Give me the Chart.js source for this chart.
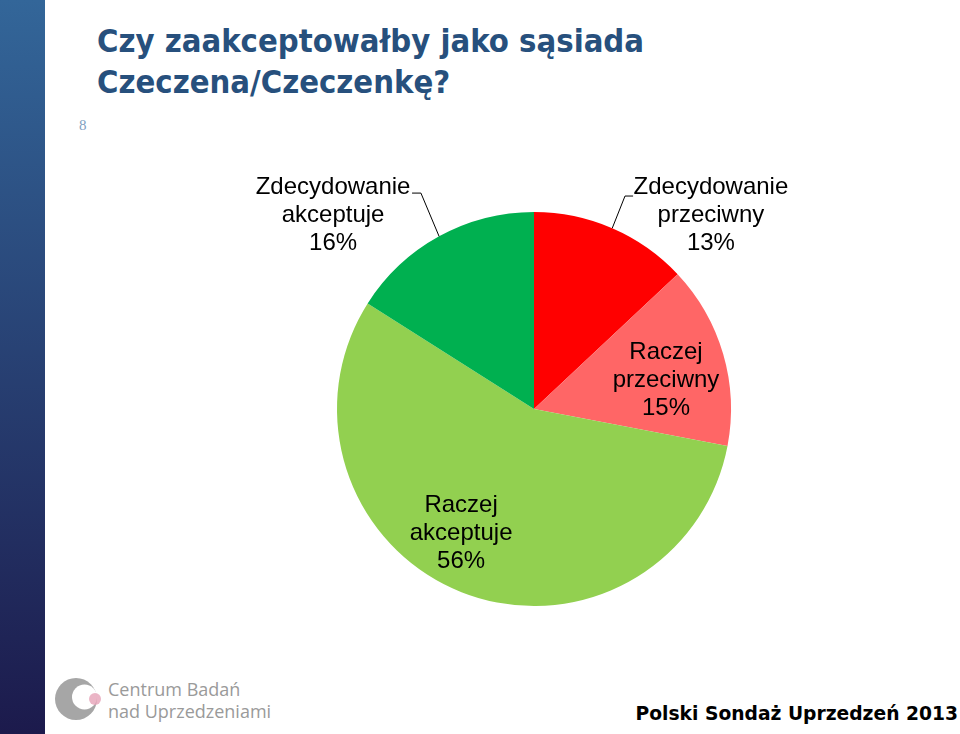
<!DOCTYPE html>
<html lang="pl">
<head>
    <meta charset="UTF-8">
    <title>Czy zaakceptowałby jako sąsiada Czeczena/Czeczenkę?</title>
    <style>
        body {
            margin: 0;
            width: 960px;
            height: 734px;
            background: white;
            position: relative;
            overflow: hidden;
            font-family: "Liberation Sans", Arial, sans-serif;
        }

        .side-bar {
            position: absolute;
            left: 0;
            top: 0;
            width: 45px;
            height: 734px;
            background: linear-gradient(to bottom, #336699, #1c1a4c);
        }

        h1 {
            position: absolute;
            left: 97px;
            top: 21px;
            margin: 0;
            font-family: "DejaVu Sans Condensed", "DejaVu Sans", sans-serif;
            font-weight: bold;
            font-size: 32.5px;
            line-height: 41px;
            color: #27507d;
        }

        .page-num {
            position: absolute;
            left: 79px;
            top: 117px;
            font-family: "Liberation Serif", "DejaVu Serif", serif;
            font-size: 15px;
            color: #7f9fbf;
        }

        .logo {
            position: absolute;
            left: 52px;
            top: 674px;
        }

        .logo-text {
            position: absolute;
            left: 108px;
            top: 678px;
            font-family: "Open Sans", sans-serif;
            font-size: 18px;
            line-height: 22px;
            color: #9a9a9a;
        }

        .footer {
            position: absolute;
            right: 2px;
            top: 703px;
            font-family: "DejaVu Sans", sans-serif;
            font-weight: bold;
            font-size: 18.7px;
            color: #000;
        }

        #chart-wrap {
            position: absolute;
            left: 0;
            top: 0;
            width: 960px;
            height: 734px;
        }
    </style>
</head>
<body>

<div class="side-bar"></div>
<h1>Czy zaakceptowałby jako sąsiada<br>Czeczena/Czeczenkę?</h1>
<div class="page-num">8</div>

<!-- logo -->
<svg class="logo" width="56" height="50" viewBox="0 0 56 50">
    <defs>
        <mask id="cut">
            <rect width="56" height="50" fill="white"/>
            <circle cx="32.5" cy="23" r="12.5" fill="black"/>
        </mask>
    </defs>
    <circle cx="24" cy="25" r="21" fill="#a6a6a6" mask="url(#cut)"/>
    <circle cx="43" cy="25" r="6" fill="#e6a3b8" opacity="0.8"/>
</svg>
<div class="logo-text">Centrum Badań<br>nad Uprzedzeniami</div>

<div class="footer">Polski Sondaż Uprzedzeń 2013</div>

<div id="chart-wrap"><canvas id="pieChart"></canvas></div>

<script src="https://cdn.jsdelivr.net/npm/chart.js"></script>
<script>
    // data, clockwise from 12 o'clock
    const categories = ['Zdecydowanie przeciwny', 'Raczej przeciwny', 'Raczej akceptuje', 'Zdecydowanie akceptuje'];
    const labelLines = [
        ['Zdecydowanie', 'przeciwny'],
        ['Raczej', 'przeciwny'],
        ['Raczej', 'akceptuje'],
        ['Zdecydowanie', 'akceptuje']
    ];
    const percentages = [13, 15, 56, 16];
    const sliceColors = ['#ff0000', '#ff6666', '#92d050', '#00b050'];

    // label placement, in units of the pie radius from its centre
    const labelPos = [[0.898, -0.985], [0.67, -0.147], [-0.37, 0.63], [-1.02, -0.985]];
    const leaders = [
        [[0.462, -1.081], [0.503, -1.081]],
        null,
        null,
        [[-0.574, -1.096], [-0.619, -1.096]]
    ];

    const sliceLabels = {
        id: 'sliceLabels',
        afterDatasetsDraw(chart) {
            const ctx = chart.ctx;
            const meta = chart.getDatasetMeta(0);
            ctx.save();
            meta.data.forEach((arc, i) => {
                const r = arc.outerRadius;
                const cx = arc.x, cy = arc.y;
                const mid = (arc.startAngle + arc.endAngle) / 2;

                if (leaders[i]) {
                    ctx.beginPath();
                    ctx.strokeStyle = '#000';
                    ctx.lineWidth = 1;
                    ctx.moveTo(cx + Math.cos(mid) * r, cy + Math.sin(mid) * r);
                    leaders[i].forEach(p => ctx.lineTo(cx + p[0] * r, cy + p[1] * r));
                    ctx.stroke();
                }

                const lx = cx + labelPos[i][0] * r;
                const ly = cy + labelPos[i][1] * r;
                const lines = labelLines[i].concat([percentages[i] + '%']);
                ctx.fillStyle = '#000';
                ctx.font = '24px "Liberation Sans", Arial, sans-serif';
                ctx.textAlign = 'center';
                ctx.textBaseline = 'middle';
                lines.forEach((t, k) => ctx.fillText(t, lx, ly + (k - 1) * 28));
            });
            ctx.restore();
        }
    };

    new Chart(document.getElementById('pieChart'), {
        type: 'pie',
        data: {
            labels: categories,
            datasets: [{
                data: percentages,
                backgroundColor: sliceColors,
                borderWidth: 0
            }]
        },
        options: {
            responsive: true,
            maintainAspectRatio: false,
            animation: false,
            layout: {
                padding: { left: 337, right: 229, top: 212, bottom: 128 }
            },
            plugins: {
                legend: { display: false },
                tooltip: { enabled: false }
            }
        },
        plugins: [sliceLabels]
    });
</script>
</body>
</html>
